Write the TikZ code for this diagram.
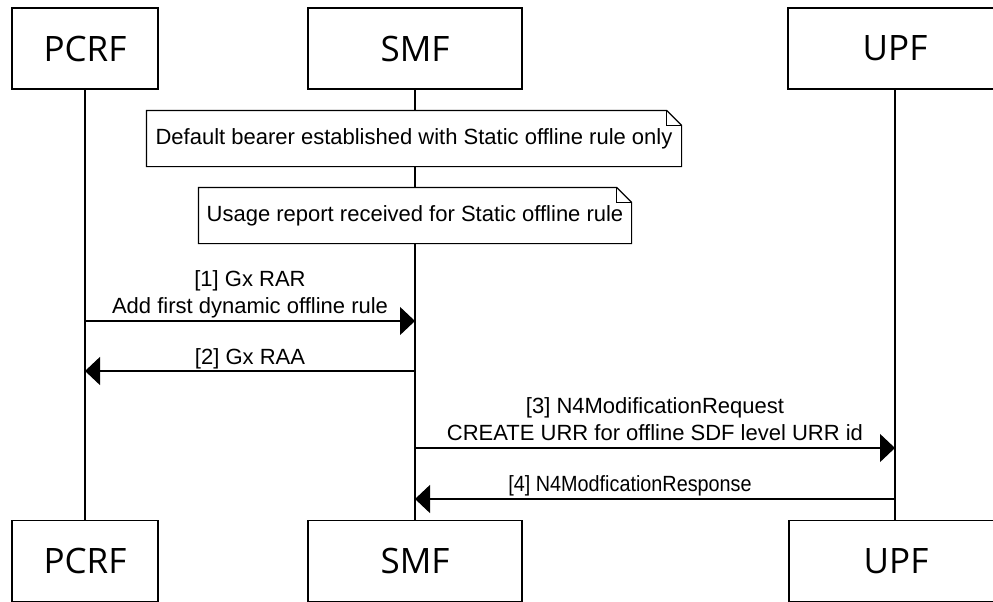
\documentclass[tikz,border=0pt]{standalone}
\usepackage{fontspec}
\setmainfont{Liberation Sans}
\newfontfamily\boxfont{Open Sans}
\usetikzlibrary{arrows.meta}

\begin{document}
\begin{tikzpicture}[x=1pt, y=-1pt, line width=1.2pt,
    actor/.style={draw, line width=1.3pt, minimum height=81pt, inner sep=0pt,
      font=\boxfont\fontsize{35}{42}\selectfont},
    note/.style={fill=white, minimum height=55pt, inner sep=0pt,
      font=\fontsize{22}{27}\selectfont},
    msg/.style={-{Triangle[length=15pt, width=28pt]}},
    lbl/.style={font=\fontsize{22}{27}\selectfont, align=center, inner sep=0pt,
      text depth=0pt}]
  \useasboundingbox (0,0) rectangle (993,602);

  \node[actor, minimum width=146pt] (pcrftop) at (85,48.5)  {PCRF};
  \node[actor, minimum width=214pt] (smftop)  at (415,48.5) {SMF};
  \node[actor, minimum width=214pt] (upftop)  at (895,48.5) {UPF};
  \node[actor, minimum width=146pt] (pcrfbot) at (85,561)  {PCRF};
  \node[actor, minimum width=214pt] (smfbot)  at (415,561) {SMF};
  \node[actor, minimum width=214pt] (upfbot)  at (896,561) {UPF};

  \draw (pcrftop) -- (pcrfbot);
  \draw (smftop) -- (smfbot);
  \draw (upftop.south) -- (upftop.south |- upfbot.north);

  \node[note, minimum width=534pt] (bearer) at (414,138.5)
    {Default bearer established with Static offline rule only};
  \node[note, minimum width=432pt] (usage) at (415,215.5)
    {Usage report received for Static offline rule};
  \foreach \n in {bearer, usage} {
    \draw (\n.south west) -- (\n.north west) -- ([xshift=-15pt]\n.north east)
      -- ([yshift=-15pt]\n.north east) -- (\n.south east) -- cycle;
    \draw ([xshift=-15pt]\n.north east) |- ([yshift=-15pt]\n.north east);
  }

  \draw[msg] (pcrftop.south |- 0,321) -- (smftop.south |- 0,321)
    node[lbl, midway, above=6.5pt] {[1] Gx RAR\\Add first dynamic offline rule};
  \draw[msg] (smftop.south |- 0,371) -- (pcrftop.south |- 0,371)
    node[lbl, midway, above=5.5pt] {[2] Gx RAA};
  \draw[msg] (smftop.south |- 0,448) -- (upftop.south |- 0,448)
    node[lbl, midway, above=7pt] {[3] N4ModificationRequest\\CREATE URR for offline SDF level URR id};
  \draw[msg] (upftop.south |- 0,499) -- (smftop.south |- 0,499)
    node[lbl, pos=0.552, above=6.5pt,
      font=\fontsize{22}{27}\selectfont\addfontfeature{FakeStretch=0.9}] {[4] N4ModficationResponse};
\end{tikzpicture}
\end{document}
